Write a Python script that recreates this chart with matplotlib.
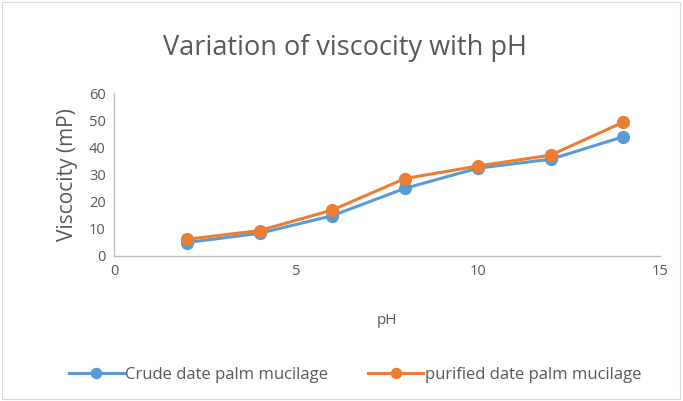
import matplotlib
matplotlib.use("Agg")
import matplotlib.pyplot as plt
from matplotlib.patches import Rectangle

ph = [2, 4, 6, 8, 10, 12, 14]
crude = [4.9, 8.3, 14.8, 24.9, 32.3, 35.6, 43.9]
purified = [6.1, 9.3, 16.9, 28.5, 33.1, 37.1, 49.3]
labels = ["Crude date palm mucilage", "purified date palm mucilage"]
title = "Variation of viscocity with pH"

plt.rcParams['font.family'] = ['Open Sans', 'DejaVu Sans']
grey = "#595959"

fig = plt.figure(figsize=(6.83, 4.01), dpi=100)
fig.patches.append(Rectangle((0.003, 0.006), 0.993, 0.99, transform=fig.transFigure,
                             fill=False, edgecolor="#d9d9d9", linewidth=0.8))
ax = fig.add_axes([0.167, 0.362, 0.799, 0.406])

ax.plot(ph, crude, color="#5B9BD5", lw=2.2, marker="o", ms=8.5, label=labels[0])
ax.plot(ph, purified, color="#ED7D31", lw=2.2, marker="o", ms=8.5, label=labels[1])

ax.set_xlim(0, 15)
ax.set_ylim(0, 60)
ax.set_xticks([0, 5, 10, 15])
ax.set_yticks(range(0, 61, 10))
for s in ["top", "right"]:
    ax.spines[s].set_visible(False)
for s in ["left", "bottom"]:
    ax.spines[s].set_color("#bfbfbf")
    ax.spines[s].set_linewidth(1.0)
ax.tick_params(length=0, labelsize=10.5, labelcolor=grey, pad=6)
ax.set_xlabel("pH", fontsize=11, color=grey, labelpad=24)
ax.set_ylabel("Viscocity (mP)", fontsize=15, color=grey, labelpad=8)

fig.text(0.505, 0.88, title, ha="center", va="center", fontsize=19.5, color=grey)

fig.legend(loc="center", bbox_to_anchor=(0.52, 0.065), ncol=2, frameon=False,
           fontsize=12, labelcolor=grey, handlelength=3.3, handletextpad=0.1,
           columnspacing=2.4, markerscale=0.85)

fig.savefig("out.png", dpi=100)
